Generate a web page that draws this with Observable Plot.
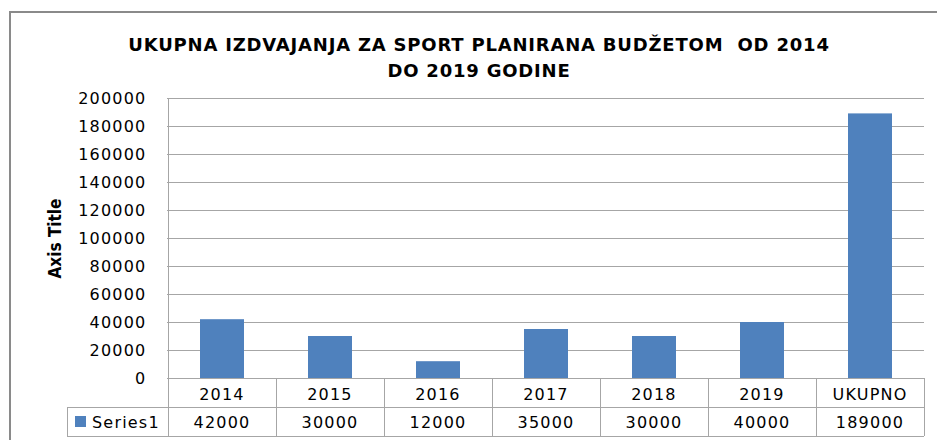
<!DOCTYPE html>
<html><head><meta charset="utf-8">
<script src="https://cdn.jsdelivr.net/npm/d3@7"></script>
<script src="https://cdn.jsdelivr.net/npm/@observablehq/plot@0.6"></script>
<style>
body{margin:0;background:#fff;}
#wrap{position:relative;width:937px;height:440px;overflow:hidden;background:#fff;}
#border{position:absolute;left:9px;top:11px;width:1200px;height:1200px;border:2px solid #8a8a8a;box-sizing:border-box;}
#wrap svg{position:absolute;left:0;top:0;overflow:visible;}
#wrap svg text{letter-spacing:1.2px;}
</style></head><body><div id="wrap"><div id="border"></div></div>
<script>
const categories = ["2014", "2015", "2016", "2017", "2018", "2019", "UKUPNO"];
const values = [42000, 30000, 12000, 35000, 30000, 40000, 189000];
const yTicks = [0, 20000, 40000, 60000, 80000, 100000, 120000, 140000, 160000, 180000, 200000];
const seriesName = "Series1";
const titleLines = ["UKUPNA IZDVAJANJA ZA SPORT PLANIRANA BUDŽETOM  OD 2014", "DO 2019 GODINE"];
const axisTitle = "Axis Title";

const data = categories.map((c, i) => ({category: c, value: values[i]}));
const barColor = "#4F81BD";
const lineColor = "#a6a6a6";

const chart = Plot.plot({
  width: 937, height: 440,
  marginTop: 98, marginLeft: 167, marginRight: 13, marginBottom: 62,
  style: {background: "transparent", fontFamily: "DejaVu Sans, sans-serif", fontSize: "16px", color: "#000", overflow: "visible"},
  x: {domain: categories, padding: 0, axis: null},
  y: {domain: [0, 200000]},
  marks: [
    Plot.gridY(yTicks, {stroke: lineColor, strokeOpacity: 1}),
    Plot.axisY(yTicks, {tickSize: 0, tickPadding: 21, tickFormat: d => String(d), label: null, fontSize: 16}),
    Plot.barY(data, {x: "category", y: "value", fill: barColor, insetLeft: 32, insetRight: 32}),
    Plot.ruleY([0], {stroke: lineColor}),
    Plot.text([axisTitle], {frameAnchor: "left", rotate: -90, dx: -112, textAnchor: "middle",
      fontWeight: "bold", fontSize: 17, fontFamily: "Liberation Sans Narrow, DejaVu Sans Condensed, sans-serif"}),
    Plot.text([titleLines.join("\n")], {frameAnchor: "top", dx: -67, dy: -66, lineAnchor: "top", lineHeight: 1.43,
      fontWeight: "bold", fontSize: 18, fontFamily: "DejaVu Sans, sans-serif"})
  ]
});

const svg = d3.select(chart);
const textMarks = svg.selectAll('g[aria-label="text"]');
textMarks.selectAll("text").style("letter-spacing", "0").style("white-space", "pre");
// title: slightly wider tracking to match the reference's wide bold face
svg.selectAll('g[aria-label="text"] text').filter(function() { return this.querySelector("tspan"); })
  .style("letter-spacing", "0.8px");

// Data table under the axis, positioned with Plot's own scales
const sx = chart.scale("x"), sy = chart.scale("y");
const step = sx.step || sx.bandwidth;
const left = sx.apply(categories[0]);
const right = sx.apply(categories[categories.length - 1]) + step;
const y0 = sy.apply(0);
const rowH = 29;
const legendLeft = 67;
const g = svg.append("g").attr("stroke", lineColor).attr("stroke-width", 1).attr("fill", "none");
g.append("line").attr("x1", left + 0.5).attr("x2", left + 0.5).attr("y1", sy.apply(200000)).attr("y2", y0 + 2 * rowH);
for (let i = 1; i <= categories.length; i++) {
  const x = Math.round(left + i * step) + 0.5;
  g.append("line").attr("x1", x).attr("x2", x).attr("y1", y0).attr("y2", y0 + 2 * rowH);
}
g.append("line").attr("x1", legendLeft).attr("x2", right).attr("y1", y0 + rowH + 0.5).attr("y2", y0 + rowH + 0.5);
g.append("line").attr("x1", legendLeft).attr("x2", right).attr("y1", y0 + 2 * rowH + 0.5).attr("y2", y0 + 2 * rowH + 0.5);
g.append("line").attr("x1", legendLeft + 0.5).attr("x2", legendLeft + 0.5).attr("y1", y0 + rowH).attr("y2", y0 + 2 * rowH);

const t = svg.append("g").attr("fill", "#000").attr("font-size", 16).attr("font-family", "DejaVu Sans, sans-serif").attr("text-anchor", "middle");
categories.forEach((c, i) => {
  const cx = sx.apply(c) + step / 2;
  t.append("text").attr("x", cx).attr("y", y0 + 22).text(c);
  t.append("text").attr("x", cx).attr("y", y0 + 50).text(String(values[i]));
});
svg.append("rect").attr("x", 75).attr("y", y0 + 38).attr("width", 11).attr("height", 11).attr("fill", barColor);
svg.append("text").attr("x", 92).attr("y", y0 + 50).attr("font-size", 16).attr("font-family", "DejaVu Sans, sans-serif")
  .attr("fill", "#000").attr("text-anchor", "start").text(seriesName);

document.getElementById("wrap").appendChild(chart);
</script>
</body></html>
